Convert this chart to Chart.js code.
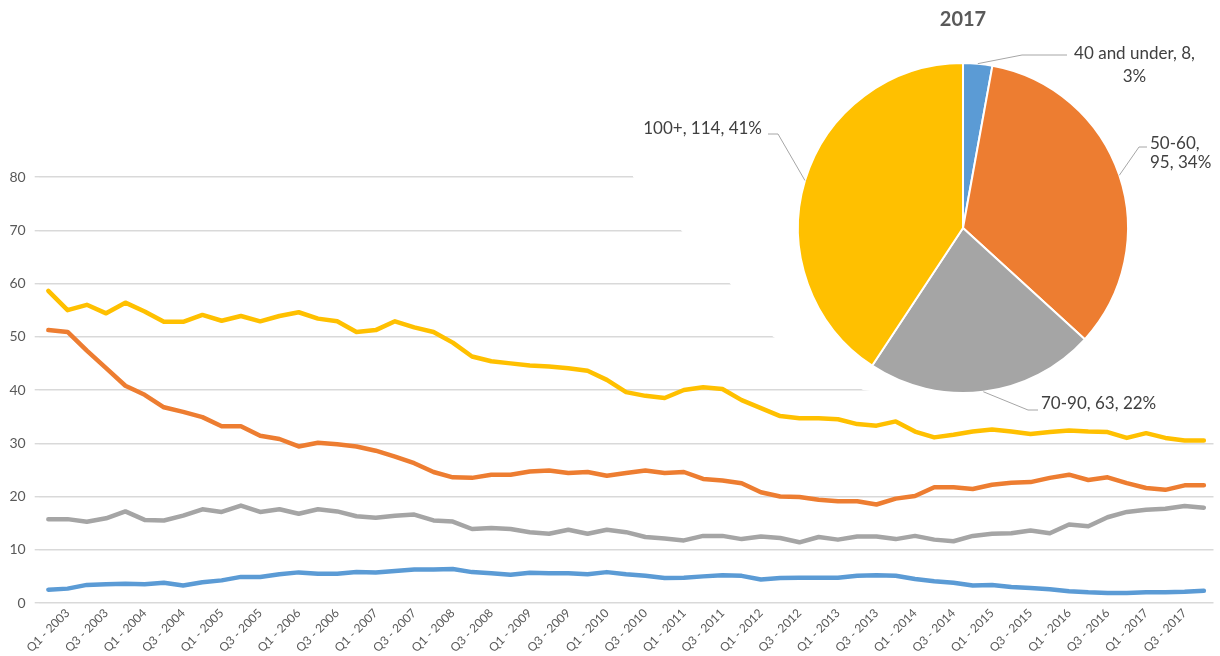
<!DOCTYPE html>
<html>
<head>
<meta charset="utf-8">
<script src="https://cdn.jsdelivr.net/npm/chart.js@4.4.1/dist/chart.umd.min.js"></script>
<style>
  html, body { margin: 0; padding: 0; background: #fff; overflow: hidden; }
  #wrap { position: relative; width: 1220px; height: 656px; overflow: hidden; }
  #lineChart { position: absolute; left: 0; top: 0; }
  #pieChart { position: absolute; left: 643px; top: 0; }
</style>
</head>
<body>
<div id="wrap">
  <canvas id="lineChart" width="1220" height="656"></canvas>
  <canvas id="pieChart" width="640" height="440"></canvas>
</div>
<script>
// quarters (first one has no visible label)
const quarters = [
  "Q4 - 2002",
  "Q1 - 2003", "Q2 - 2003", "Q3 - 2003", "Q4 - 2003",
  "Q1 - 2004", "Q2 - 2004", "Q3 - 2004", "Q4 - 2004",
  "Q1 - 2005", "Q2 - 2005", "Q3 - 2005", "Q4 - 2005",
  "Q1 - 2006", "Q2 - 2006", "Q3 - 2006", "Q4 - 2006",
  "Q1 - 2007", "Q2 - 2007", "Q3 - 2007", "Q4 - 2007",
  "Q1 - 2008", "Q2 - 2008", "Q3 - 2008", "Q4 - 2008",
  "Q1 - 2009", "Q2 - 2009", "Q3 - 2009", "Q4 - 2009",
  "Q1 - 2010", "Q2 - 2010", "Q3 - 2010", "Q4 - 2010",
  "Q1 - 2011", "Q2 - 2011", "Q3 - 2011", "Q4 - 2011",
  "Q1 - 2012", "Q2 - 2012", "Q3 - 2012", "Q4 - 2012",
  "Q1 - 2013", "Q2 - 2013", "Q3 - 2013", "Q4 - 2013",
  "Q1 - 2014", "Q2 - 2014", "Q3 - 2014", "Q4 - 2014",
  "Q1 - 2015", "Q2 - 2015", "Q3 - 2015", "Q4 - 2015",
  "Q1 - 2016", "Q2 - 2016", "Q3 - 2016", "Q4 - 2016",
  "Q1 - 2017", "Q2 - 2017", "Q3 - 2017", "Q4 - 2017"
];

const under40 = [
  2.5, 2.7, 3.4, 3.5, 3.6, 3.5, 3.8, 3.3, 3.9, 4.25,
  4.9, 4.9, 5.4, 5.75, 5.5, 5.5, 5.8, 5.75, 6.0, 6.3,
  6.3, 6.4, 5.8, 5.6, 5.3, 5.7, 5.6, 5.6, 5.4, 5.8,
  5.4, 5.1, 4.7, 4.75, 5.0, 5.2, 5.1, 4.4, 4.7, 4.75,
  4.75, 4.75, 5.1, 5.2, 5.1, 4.5, 4.1, 3.8, 3.3, 3.4,
  3.0, 2.8, 2.6, 2.2, 2.0, 1.9, 1.9, 2.0, 2.0, 2.1, 2.3
];
const from50to60 = [
  51.25, 50.9, 47.4, 44.1, 40.8, 39.1, 36.75, 35.9, 34.9, 33.2,
  33.2, 31.4, 30.8, 29.4, 30.1, 29.8, 29.4, 28.6, 27.5, 26.25,
  24.6, 23.6, 23.5, 24.1, 24.1, 24.7, 24.9, 24.4, 24.6, 23.9,
  24.4, 24.9, 24.4, 24.6, 23.3, 23.0, 22.5, 20.8, 20.0, 19.9,
  19.4, 19.1, 19.1, 18.5, 19.6, 20.1, 21.75, 21.75, 21.4, 22.2,
  22.6, 22.7, 23.5, 24.1, 23.1, 23.6, 22.5, 21.6, 21.25, 22.1, 22.1
];
const from70to90 = [
  15.75, 15.75, 15.25, 15.9, 17.2, 15.6, 15.5, 16.4, 17.6, 17.1,
  18.3, 17.1, 17.6, 16.75, 17.6, 17.2, 16.3, 16.0, 16.4, 16.6,
  15.5, 15.3, 13.9, 14.1, 13.9, 13.3, 13.0, 13.75, 13.0, 13.75,
  13.3, 12.4, 12.1, 11.75, 12.6, 12.6, 12.0, 12.5, 12.2, 11.4,
  12.4, 11.9, 12.5, 12.5, 12.0, 12.6, 11.9, 11.6, 12.6, 13.0,
  13.1, 13.6, 13.1, 14.75, 14.4, 16.1, 17.1, 17.5, 17.7, 18.2, 17.9
];
const over100 = [
  58.6, 55.0, 56.0, 54.4, 56.4, 54.75, 52.8, 52.8, 54.1, 53.0,
  53.9, 52.9, 53.9, 54.6, 53.4, 52.9, 50.9, 51.25, 52.9, 51.75,
  50.9, 48.9, 46.3, 45.4, 45.0, 44.6, 44.4, 44.1, 43.6, 41.9,
  39.6, 38.9, 38.5, 40.0, 40.5, 40.2, 38.1, 36.6, 35.1, 34.7,
  34.7, 34.5, 33.6, 33.3, 34.1, 32.2, 31.1, 31.6, 32.2, 32.6,
  32.2, 31.75, 32.1, 32.4, 32.2, 32.1, 31.0, 31.9, 31.0, 30.5, 30.5
];

const pieTitle = "2017";
const pieLabels = ["40 and under", "50-60", "70-90", "100+"];
const pieValues = [8, 95, 63, 114];
const piePercents = [3, 34, 22, 41];

const colors = ['#5B9BD5', '#ED7D31', '#A5A5A5', '#FFC000'];
const textGray = '#595959';

// the pie picture hides the right end of the upper grid lines
const gridMask = {
  id: 'gridMask',
  beforeDatasetsDraw(chart) {
    const y = chart.scales.y;
    const c = chart.ctx;
    c.save();
    c.fillStyle = '#fff';
    c.beginPath();
    c.moveTo(633, 0);
    c.lineTo(633, y.getPixelForValue(80));
    c.lineTo(681, y.getPixelForValue(70));
    c.lineTo(730, y.getPixelForValue(60));
    c.lineTo(773, y.getPixelForValue(50));
    c.lineTo(863, y.getPixelForValue(40));
    c.lineTo(1220, y.getPixelForValue(30) - 3);
    c.lineTo(1220, 0);
    c.closePath();
    c.fill();
    c.restore();
  }
};

// where each pie label goes, relative to the pie centre
const labelLayout = [
  { elbow: [59, -173], end: [104, -173], text: [171.5, -174], align: 'center', split: 2, gap: 23 },
  { elbow: [176, -81], end: [184, -81], text: [187, -84], align: 'left', split: 1, gap: 18.5 },
  { elbow: [65, 182], end: [75, 182], text: [78, 176], align: 'left' },
  { elbow: [-185, -94], end: [-195, -94], text: [-201, -99], align: 'right' }
];

const pieLabelPlugin = {
  id: 'pieLabelPlugin',
  afterDraw(chart) {
    const c = chart.ctx;
    const arcs = chart.getDatasetMeta(0).data;
    c.save();
    c.font = '17px Lato';
    c.fillStyle = '#404040';
    c.textBaseline = 'middle';
    arcs.forEach((arc, i) => {
      const p = arc.getProps(['x', 'y', 'startAngle', 'endAngle', 'outerRadius']);
      const mid = (p.startAngle + p.endAngle) / 2;
      const lay = labelLayout[i];
      c.strokeStyle = '#a6a6a6';
      c.lineWidth = 1;
      c.beginPath();
      c.moveTo(p.x + p.outerRadius * Math.cos(mid), p.y + p.outerRadius * Math.sin(mid));
      c.lineTo(p.x + lay.elbow[0], p.y + lay.elbow[1]);
      c.lineTo(p.x + lay.end[0], p.y + lay.end[1]);
      c.stroke();

      const parts = [pieLabels[i], String(pieValues[i]), piePercents[i] + '%'];
      let lines = [parts.join(', ')];
      if (lay.split) {
        lines = [parts.slice(0, lay.split).join(', ') + ',', parts.slice(lay.split).join(', ')];
      }
      c.textAlign = lay.align;
      lines.forEach((line, k) => {
        c.fillText(line, p.x + lay.text[0], p.y + lay.text[1] + k * (lay.gap || 0));
      });
    });
    c.restore();
  }
};

const drawCharts = () => {
  Chart.defaults.font.family = 'Lato';
  Chart.defaults.color = textGray;

  const lineCtx = document.querySelector('#lineChart').getContext('2d');
  const seriesNames = ["40 and under", "50-60", "70-90", "100+"];
  const seriesData = [under40, from50to60, from70to90, over100];

  new Chart(lineCtx, {
    type: 'line',
    data: {
      labels: quarters,
      datasets: seriesData.map((d, i) => ({
        label: seriesNames[i],
        data: d,
        borderColor: colors[i],
        backgroundColor: colors[i],
        borderWidth: 4.5,
        pointRadius: 0,
        tension: 0,
        borderJoinStyle: 'round',
        borderCapStyle: 'round'
      }))
    },
    options: {
      responsive: false,
      animation: false,
      devicePixelRatio: 1,
      layout: { padding: { top: 177, right: 6.5, left: 0, bottom: 0 } },
      plugins: {
        legend: { display: false },
        tooltip: { enabled: false }
      },
      scales: {
        x: {
          offset: true,
          grid: { display: false },
          border: { display: false },
          ticks: {
            autoSkip: false,
            minRotation: 45,
            maxRotation: 45,
            padding: -5,
            font: { size: 12 },
            color: textGray,
            callback: function (value, index) {
              return index % 2 === 1 ? this.getLabelForValue(value) : '';
            }
          },
          afterFit: scale => { scale.height = 53; }
        },
        y: {
          min: 0,
          max: 80,
          border: { display: false },
          grid: { color: '#d9d9d9', lineWidth: 1.4, tickLength: 4 },
          ticks: { stepSize: 10, padding: 9, font: { size: 14 }, color: textGray },
          afterFit: scale => { scale.width = 38.7; }
        }
      }
    },
    plugins: [gridMask]
  });

  const pieCtx = document.querySelector('#pieChart').getContext('2d');
  new Chart(pieCtx, {
    type: 'pie',
    data: {
      labels: pieLabels,
      datasets: [{
        data: pieValues,
        backgroundColor: colors,
        borderColor: '#fff',
        borderWidth: 2
      }]
    },
    options: {
      responsive: false,
      animation: false,
      devicePixelRatio: 1,
      layout: { padding: { left: 154, right: 154, top: 0, bottom: 46 } },
      plugins: {
        legend: { display: false },
        tooltip: { enabled: false },
        title: {
          display: true,
          text: pieTitle,
          color: textGray,
          font: { size: 20, weight: 'bold' },
          padding: { top: 8, bottom: 30 }
        }
      }
    },
    plugins: [pieLabelPlugin]
  });
};

Promise.all([
  document.fonts.load('17px Lato'),
  document.fonts.load('bold 20px Lato')
]).then(drawCharts).catch(drawCharts);
</script>
</body>
</html>
